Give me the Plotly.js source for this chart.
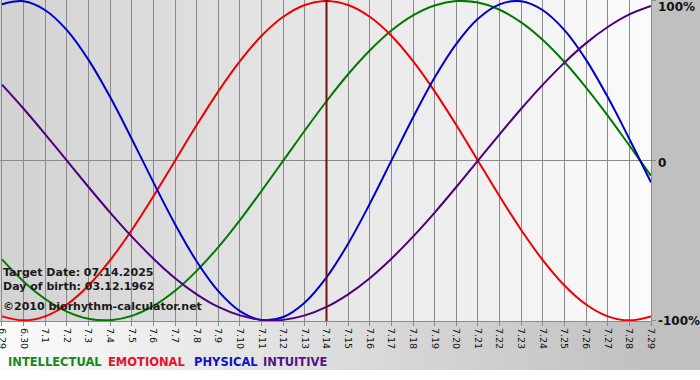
<!DOCTYPE html>
<html>
<head>
<meta charset="utf-8">
<script src="https://cdn.plot.ly/plotly-3.0.1.min.js"></script>
<style>
  html, body { margin: 0; padding: 0; background: #ffffff; }
  #wrap { position: relative; width: 700px; height: 380px; overflow: hidden; }
  #bgOuter { position: absolute; left: 0; top: 0; width: 700px; height: 370px;
    background: linear-gradient(to right, #fbfbfb 0px, #c0c0c0 651px, #c0c0c0 700px); }
  #bgPlot { position: absolute; left: 0; top: 0; width: 651px; height: 321px;
    background: linear-gradient(to right, #d2d2d2 0px, #fbfbfb 651px); }
  #chart { position: absolute; left: 0; top: 0; width: 700px; height: 380px; }
</style>
</head>
<body>
<div id="wrap">
  <div id="bgOuter"></div>
  <div id="bgPlot"></div>
  <div id="chart"></div>
</div>
<script>
// Day labels (month.day), 06.29 to 07.29
var days = ['6.29','6.30','7.1','7.2','7.3','7.4','7.5','7.6','7.7','7.8','7.9','7.10',
            '7.11','7.12','7.13','7.14','7.15','7.16','7.17','7.18','7.19','7.20',
            '7.21','7.22','7.23','7.24','7.25','7.26','7.27','7.28','7.29'];

// Cycle values in percent
var intellectual = [-61.8,-75.6,-86.6,-94.5,-99.0,-99.9,-97.2,-91.0,-81.5,-69.0,-54.1,-37.2,-18.9,
                    0,18.9,37.2,54.1,69.0,81.5,91.0,97.2,99.9,99.0,94.5,86.6,75.6,61.8,45.8,28.2,9.5,-9.5];
var emotional = [-97.5,-100,-97.5,-90.1,-78.2,-62.3,-43.4,-22.3,0,22.3,43.4,62.3,78.2,90.1,97.5,
                 100,97.5,90.1,78.2,62.3,43.4,22.3,0,-22.3,-43.4,-62.3,-78.2,-90.1,-97.5,-100,-97.5];
var physical = [97.9,99.8,94.2,81.7,63.1,39.8,13.6,-13.6,-39.8,-63.1,-81.7,-94.2,-99.8,-97.9,-88.8,
                -73.1,-52.0,-27.0,0,27.0,52.0,73.1,88.8,97.9,99.8,94.2,81.7,63.1,39.8,13.6,-13.6];
var intuitive = [47.6,32.5,16.5,0,-16.5,-32.5,-47.6,-61.4,-73.6,-83.7,-91.6,-96.9,-99.7,-99.7,-96.9,
                 -91.6,-83.7,-73.6,-61.4,-47.6,-32.5,-16.5,0,16.5,32.5,47.6,61.4,73.6,83.7,91.6,96.9];

var seriesNames = ['INTELLECTUAL','EMOTIONAL','PHYSICAL','INTUITIVE'];
var yTickVals = [-100, 0, 100];
var yTickText = ['-100%', '0', '100%'];
var targetDay = '7.14';
var infoLines = ['Target Date: 07.14.2025', 'Day of birth: 03.12.1962', '\u00a92010 biorhythm-calculator.net'];

var colors = ['#007a00', '#ee0000', '#0000cc', '#4b0082'];
var legendColors = ['#128a1a', '#e8102a', '#1010d0', '#56108a'];
var allSeries = [intellectual, emotional, physical, intuitive];

var traces = allSeries.map(function (vals, i) {
  return {
    x: days, y: vals, type: 'scatter', mode: 'lines', name: seriesNames[i],
    line: { color: colors[i], width: 2, shape: 'spline', smoothing: 1 },
    hoverinfo: 'x+y'
  };
});

var baseFont = 'DejaVu Sans, Verdana, sans-serif';

var annotations = [];
var infoY = [0.1505, 0.1069, 0.0445];
infoLines.forEach(function (t, i) {
  annotations.push({
    xref: 'paper', yref: 'paper', x: 0.002, y: infoY[i], xanchor: 'left', yanchor: 'middle',
    text: t, showarrow: false,
    font: { family: baseFont, size: 11, color: '#1a1a1a', weight: 'bold' }
  });
});
var legendX = [0.0095, 0.163, 0.295, 0.4015];
seriesNames.forEach(function (n, i) {
  annotations.push({
    xref: 'paper', yref: 'paper', x: legendX[i], y: -0.1268, xanchor: 'left', yanchor: 'middle',
    text: n, showarrow: false,
    font: { family: baseFont, size: 11.5, color: legendColors[i], weight: 'bold' }
  });
});
// Right-side value labels (placed as text next to the axis)
var yLabelShift = [-1, -2, -6];
yTickVals.forEach(function (v, i) {
  annotations.push({
    xref: 'paper', yref: 'y', x: 1, y: v, xanchor: 'left', yanchor: 'middle',
    xshift: 5, yshift: yLabelShift[i],
    text: yTickText[i], showarrow: false,
    font: { family: baseFont, size: 12, color: '#111111', weight: 'bold' }
  });
});

var layout = {
  width: 700, height: 380,
  margin: { l: 0, r: 49, t: 0, b: 59, pad: 0 },
  paper_bgcolor: 'rgba(0,0,0,0)',
  plot_bgcolor: 'rgba(0,0,0,0)',
  showlegend: false,
  font: { family: baseFont },
  xaxis: {
    type: 'category',
    range: [-0.092, 30],
    showgrid: true, gridcolor: '#8a8a8a', gridwidth: 1,
    showline: true, linecolor: '#8a8a8a', linewidth: 1,
    ticks: 'outside', ticklen: 4, tickcolor: '#8a8a8a',
    tickangle: 90,
    tickfont: { family: baseFont, size: 9.5, color: '#111111' },
    zeroline: false, fixedrange: true
  },
  yaxis: {
    side: 'right',
    range: [-100.4, 100.6],
    tickvals: yTickVals,
    showticklabels: false,
    showgrid: false,
    zeroline: true, zerolinecolor: '#8a8a8a', zerolinewidth: 1,
    showline: true, linecolor: '#8a8a8a', linewidth: 1,
    ticks: 'outside', ticklen: 4, tickcolor: '#8a8a8a',
    fixedrange: true
  },
  shapes: [{
    type: 'line', xref: 'x', yref: 'paper',
    x0: days.indexOf(targetDay), x1: days.indexOf(targetDay), y0: 0, y1: 1,
    line: { color: '#6e1212', width: 2 }
  }],
  annotations: annotations
};

Plotly.newPlot('chart', traces, layout, { displayModeBar: false, staticPlot: true });
</script>
</body>
</html>
